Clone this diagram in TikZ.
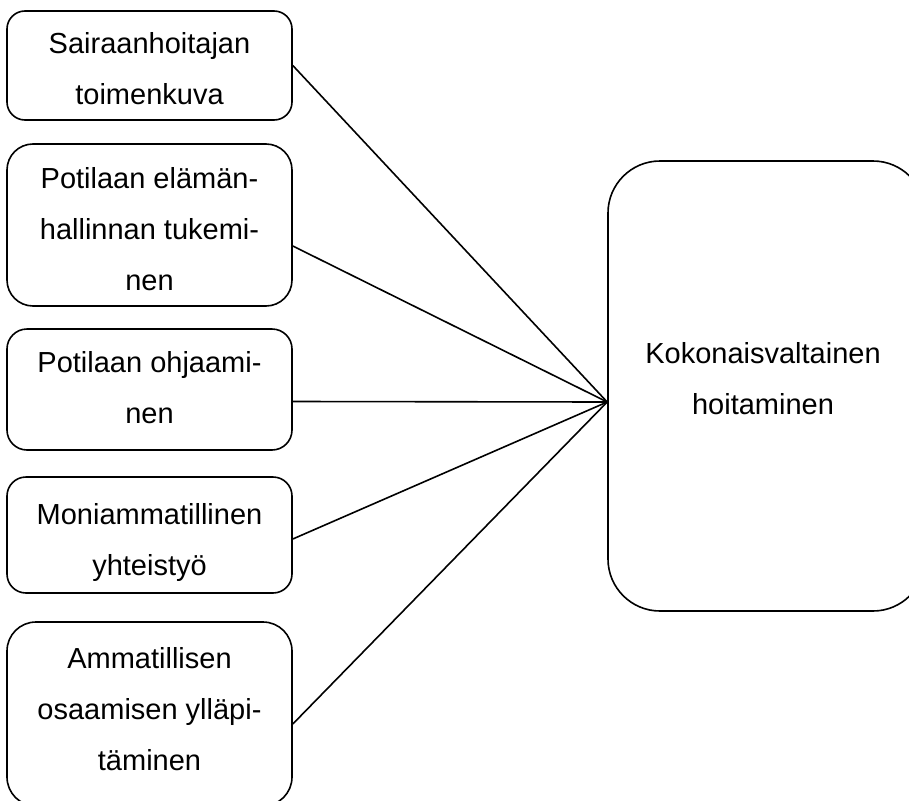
\documentclass[tikz,border=0pt]{standalone}
\usepackage{fontspec}
\setmainfont{Liberation Sans}
\begin{document}
\begin{tikzpicture}[x=1pt,y=-1pt,
  box/.style={draw=black, line width=1.6pt, inner sep=0pt, minimum width=285pt},
  lbl/.style={anchor=base, align=center, inner sep=0pt,
    font=\fontsize{29}{51}\selectfont},
  conn/.style={draw=black, line width=1.6pt}]
\useasboundingbox (0,0) rectangle (909,800);
\clip (0,0) rectangle (909,800);
% left boxes
\node[box, minimum height=109pt, rounded corners=18pt] (b1) at (149.5,65.5) {};
\node[box, minimum height=162pt, rounded corners=26pt] (b2) at (149.5,225) {};
\node[box, minimum height=121pt, rounded corners=20pt] (b3) at (149.5,389.5) {};
\node[box, minimum height=116pt, rounded corners=19pt] (b4) at (149.5,535) {};
\node[box, minimum height=184pt, rounded corners=29pt] (b5) at (149.5,714) {};
% right box
\node[draw=black, line width=1.6pt, inner sep=0pt, minimum width=317pt,
  minimum height=450pt, rounded corners=52pt] (rb) at (766.5,386) {};
% texts (anchored at the baseline of their last line)
\node[lbl] (t1) at (149.5,104) {Sairaanhoitajan\\toimenkuva};
\node[lbl] (t2) at (149.5,290) {Potilaan elämän-\\hallinnan tukemi-\\nen};
\node[lbl] (t3) at (149.5,423) {Potilaan ohjaami-\\nen};
\node[lbl] (t4) at (149.5,575) {Moniammatillinen\\yhteistyö};
\node[lbl] (t5) at (149.5,770) {Ammatillisen\\osaamisen ylläpi-\\täminen};
\node[lbl] (tr) at (763,414) {Kokonaisvaltainen\\hoitaminen};
% connectors
\coordinate (hub) at ([yshift=-16pt]rb.west);
\draw[conn] (b1.east) -- (hub);
\draw[conn] ([yshift=-21pt]b2.east) -- (hub);
\draw[conn] ([yshift=-12pt]b3.east) -- (hub);
\draw[conn] ([yshift=-4pt]b4.east) -- (hub);
\draw[conn] ([yshift=-10pt]b5.east) -- (hub);
\end{tikzpicture}
\end{document}
